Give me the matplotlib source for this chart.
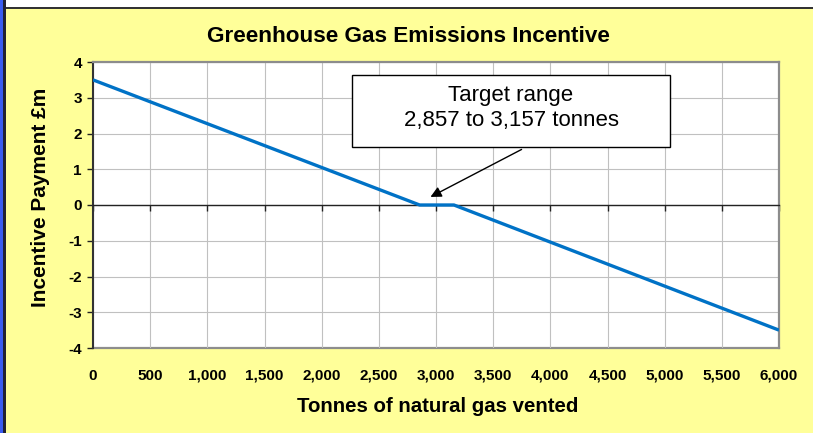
import matplotlib
matplotlib.use("Agg")
import matplotlib.pyplot as plt
import matplotlib.patches as mpatches

plt.rcParams['font.family'] = ['Liberation Sans', 'DejaVu Sans']
plt.rcParams['axes.unicode_minus'] = False

# incentive payment (GBP m) against tonnes vented, flat in the target band
tonnes = [0, 2857, 3157, 6000]
payment = [3.5, 0, 0, -3.5]

x_ticks = list(range(0, 6001, 500))
x_labels = [f"{v:,}" for v in x_ticks]
y_ticks = list(range(-4, 5))
y_labels = [str(v) for v in y_ticks]

W, H = 813, 433
fig = plt.figure(figsize=(W / 100, H / 100), dpi=100, facecolor='white')

# sheet background: yellow panel, dark rule along top, blue strip down the left
bg = [
    ((6 / W, 0), 1, 1 - 8.7 / H, '#FFFF99'),
    ((3.3 / W, 1 - 8.7 / H), 1, 2 / H, '#333333'),
    ((0, 0), 3.3 / W, 1, '#3A5CF0'),
    ((3.3 / W, 0), 2.7 / W, 1, '#222233'),
]
for xy, w, h, c in bg:
    fig.patches.append(mpatches.Rectangle(xy, w, h, transform=fig.transFigure,
                                          facecolor=c, edgecolor='none', zorder=-10))

ax = fig.add_axes([93 / W, (H - 348) / H, 686 / W, 286 / H])
ax.set_facecolor('white')
ax.set_xlim(0, 6000)
ax.set_ylim(-4, 4)

ax.set_xticks(x_ticks)
ax.set_yticks(y_ticks)
ax.set_yticklabels(y_labels, fontsize=11, fontweight='bold')
ax.grid(True, color='#C0C0C0', linewidth=0.8, zorder=0)
ax.set_axisbelow(True)

# x axis crosses at zero: ticks there, labels along the bottom frame
ax.spines['bottom'].set_position(('data', 0))
ax.spines['bottom'].set_color('#222222')
ax.spines['bottom'].set_linewidth(1.0)
ax.tick_params(axis='x', direction='out', length=4, width=1, color='#222222', labelbottom=False)
ax.tick_params(axis='y', direction='out', length=4, width=1, color='#222222', pad=4)
ax.spines['left'].set_color('#333333')
ax.spines['left'].set_linewidth(1.5)
for side in ('top', 'right'):
    ax.spines[side].set_color('#8C8C8C')
    ax.spines[side].set_linewidth(1.6)

sec = ax.secondary_xaxis(0)
sec.set_xticks(x_ticks)
sec.set_xticklabels(x_labels, fontsize=11, fontweight='bold')
sec.tick_params(length=0, pad=15)
sec.spines['bottom'].set_color('#8C8C8C')
sec.spines['bottom'].set_linewidth(1.6)

ax.plot(tonnes, payment, color='#0072C6', linewidth=2.4, solid_capstyle='butt', zorder=3)

ax.set_xlabel('Tonnes of natural gas vented', fontsize=14.7, fontweight='bold', va='center')
ax.xaxis.set_label_coords(0.503, -0.206)
ax.set_ylabel('Incentive Payment £m', fontsize=15, fontweight='bold', va='center')
ax.yaxis.set_label_coords(-0.077, 0.528)

fig.text(408 / W, 1 - 36 / H, 'Greenhouse Gas Emissions Incentive', fontsize=16.2,
         fontweight='bold', ha='center', va='center')

# callout for the target band
ax.add_patch(mpatches.Rectangle((2265, 1.62), 5047 - 2265, 3.636 - 1.62, facecolor='white',
                                edgecolor='black', linewidth=1.0, zorder=5))
ax.text((2265 + 5047) / 2, 2.70, 'Target range\n2,857 to 3,157 tonnes', fontsize=16,
        ha='center', va='center', linespacing=1.25, zorder=6)
ax.annotate('', xy=(2930, 0.19), xytext=(3770, 1.59),
            arrowprops=dict(arrowstyle='-|>', color='black', lw=1.0, mutation_scale=16),
            zorder=6)

fig.savefig('out.png', dpi=100, facecolor=fig.get_facecolor())
